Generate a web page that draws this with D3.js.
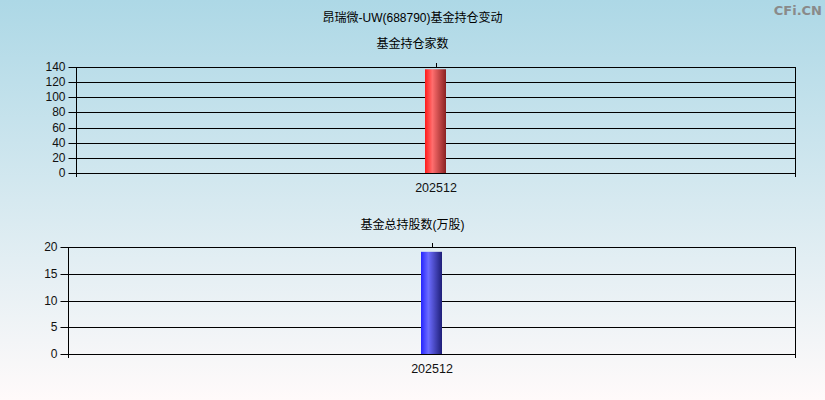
<!DOCTYPE html>
<html><head><meta charset="utf-8">
<script src="https://cdn.jsdelivr.net/npm/d3@7/dist/d3.min.js"></script>
<style>body{margin:0;padding:0;overflow:hidden}svg{display:block}</style>
</head><body>
<script>
const title = "昂瑞微-UW(688790)基金持仓变动";
const categories = ["202512"];
const fundCounts = [137];
const fundShares = [19.1];
const countTicks = [0,20,40,60,80,100,120,140];
const shareTicks = [0,5,10,15,20];
const subtitles = ["基金持仓家数","基金总持股数(万股)"];

const W=825,H=400;
const svg=d3.select("body").append("svg").attr("width",W).attr("height",H);
const defs=svg.append("defs");
const bg=defs.append("linearGradient").attr("id","bg").attr("x1",0).attr("y1",0).attr("x2",0).attr("y2",1);
bg.append("stop").attr("offset",0).attr("stop-color","#add8e6");
bg.append("stop").attr("offset",1).attr("stop-color","#fffafa");
function barGrad(id,c0,c1,c2){
  const g=defs.append("linearGradient").attr("id",id).attr("x1",0).attr("y1",0).attr("x2",1).attr("y2",0);
  g.append("stop").attr("offset",0).attr("stop-color",c0);
  g.append("stop").attr("offset",0.35).attr("stop-color",c1);
  g.append("stop").attr("offset",1).attr("stop-color",c2);
}
barGrad("gr","#ff1a1a","#ff6e6e","#8a2222");
barGrad("gb","#2525ff","#6c6cff","#1e1e78");
svg.append("rect").attr("width",W).attr("height",H).attr("fill","url(#bg)");

const font="'Liberation Sans','Noto Sans CJK SC',sans-serif";
const numFont="'Liberation Sans',Arial,sans-serif";
svg.append("text").attr("x",W/2).attr("y",22).attr("text-anchor","middle")
  .attr("font-family",font).attr("font-size",12).attr("fill","#000").text(title);
svg.append("text").attr("x",822).attr("y",15).attr("text-anchor","end")
  .attr("font-family","'DejaVu Sans',sans-serif").attr("font-size",13).attr("font-weight","bold").attr("fill","#8a8a8a").text("CFi.CN");

function panel(cfg){
  const {left,right,top,bottom,vals,ticks,grad,sub,subY}=cfg;
  const g=svg.append("g");
  const y=d3.scaleLinear().domain([0,d3.max(ticks)]).range([bottom,top]);
  const x=d3.scalePoint().domain(categories).range([left,right]).padding(0.5);
  g.append("text").attr("x",W/2).attr("y",subY).attr("text-anchor","middle")
    .attr("font-family",font).attr("font-size",12).attr("fill","#000").text(sub);
  g.selectAll(".grid").data(ticks).join("line")
    .attr("x1",left).attr("x2",right).attr("y1",d=>Math.round(y(d))+0.5).attr("y2",d=>Math.round(y(d))+0.5)
    .attr("stroke","#000").attr("stroke-width",1);
  const ya=g.append("g").attr("transform",`translate(${left+0.5},0)`)
    .call(d3.axisLeft(y).tickValues(ticks).tickSize(8).tickPadding(3).tickFormat(d3.format("d")));
  ya.select(".domain").remove();
  ya.selectAll(".tick line").attr("stroke","#000");
  ya.selectAll(".tick").attr("transform",d=>`translate(0,${Math.round(y(d))+0.5})`);
  ya.selectAll("text").attr("font-family",numFont).attr("font-size",12).attr("fill","#111");
  g.append("line").attr("x1",left+0.5).attr("x2",left+0.5).attr("y1",top).attr("y2",bottom+4).attr("stroke","#000");
  g.append("line").attr("x1",right+0.5).attr("x2",right+0.5).attr("y1",top).attr("y2",bottom+4).attr("stroke","#000");
  const bw=21;
  g.selectAll(".bar").data(vals).join("rect")
    .attr("x",(d,i)=>Math.round(x(categories[i])-bw/2)).attr("width",bw)
    .attr("y",d=>y(d)).attr("height",d=>bottom-y(d)).attr("fill",`url(#${grad})`);
  g.selectAll(".tt").data(categories).join("line")
    .attr("x1",d=>Math.round(x(d))+0.5).attr("x2",d=>Math.round(x(d))+0.5)
    .attr("y1",top-4).attr("y2",top).attr("stroke","#000");
  const xa=g.append("g").attr("transform",`translate(0,${bottom})`)
    .call(d3.axisBottom(x).tickSize(0).tickPadding(10));
  xa.select(".domain").remove();
  xa.selectAll("text").attr("font-family",numFont).attr("font-size",12.5).attr("fill","#111");
}
panel({left:76,right:795,top:67,bottom:173,vals:fundCounts,ticks:countTicks,grad:"gr",sub:subtitles[0],subY:48});
panel({left:68,right:795,top:247,bottom:354,vals:fundShares,ticks:shareTicks,grad:"gb",sub:subtitles[1],subY:229});
</script>
</body></html>
